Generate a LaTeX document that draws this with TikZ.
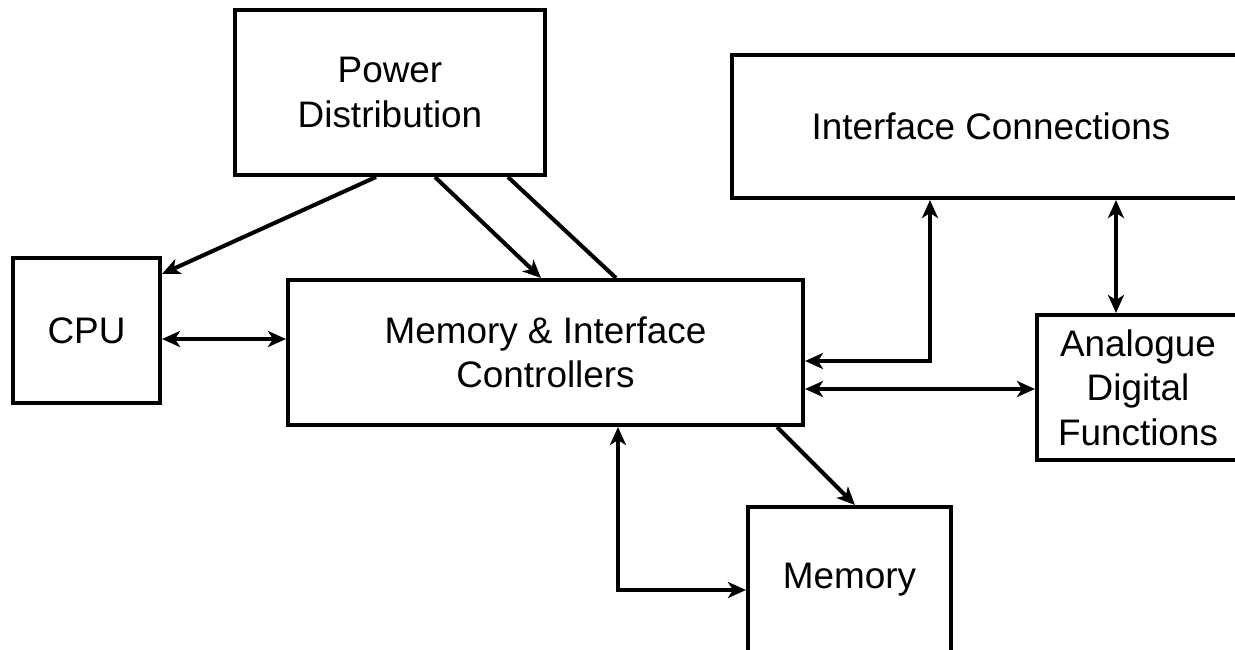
\documentclass[tikz,border=0pt]{standalone}
\usepackage{fontspec}
\setmainfont{Liberation Sans}
\usetikzlibrary{arrows.meta}

\begin{document}
\begin{tikzpicture}[color=black,line width=1.15pt,
  blk/.style={draw,rectangle,inner sep=0pt,align=center,font=\fontsize{10.5}{12.7}\selectfont},
  >={Stealth[length=1.8mm,width=1.6mm,inset=0.5mm]}]
\useasboundingbox (0,0) rectangle (12.35,-6.49);
\clip (0,0) rectangle (12.35,-6.49);

\node(PD) [blk,minimum width=3.10cm,minimum height=1.65cm] at (3.90,-0.925) {Power\\Distribution};
\node(CPU) [blk,minimum width=1.47cm,minimum height=1.45cm] at (0.865,-3.305) {CPU};
\node(MIC) [blk,minimum width=5.15cm,minimum height=1.45cm] at (5.455,-3.525) {Memory \& Interface\\Controllers};
\node(IC) [blk,minimum width=5.18cm,minimum height=1.43cm] at (9.91,-1.265) {Interface Connections};
\node(ADF) [blk,minimum width=2.02cm,minimum height=1.45cm] at (11.38,-3.875) {Analogue\\Digital\\Functions};
\node(MEM) [blk,minimum width=2.03cm,minimum height=1.46cm] at (8.495,-5.80) {Memory};

\draw[->] ([xshift=1.43cm]PD.south west) -- ([yshift=-0.18cm]CPU.north east);
\draw[->] ([xshift=2.02cm]PD.south west) -- ([xshift=2.55cm]MIC.north west);
\draw ([xshift=2.75cm]PD.south west) -- ([xshift=3.30cm]MIC.north west);
\draw[<->] ([yshift=-0.085cm]CPU.east) -- ([yshift=-0.085cm]CPU.east -| MIC.west);
\draw[<->] ([xshift=2.00cm]IC.south west) |- ([yshift=-0.085cm]MIC.east);
\draw[<->] ([xshift=3.86cm]IC.south west) coordinate (ICB) -- (ICB |- ADF.north);
\draw[<->] ([yshift=-0.365cm]MIC.east) -- ([yshift=-0.365cm]MIC.east -| ADF.west);
\draw[->] ([xshift=-0.28cm]MIC.south east) -- ([xshift=1.09cm]MEM.north west);
\draw[<->] ([xshift=3.32cm]MIC.south west) |- ([yshift=-0.10cm]MEM.west);
\end{tikzpicture}
\end{document}
